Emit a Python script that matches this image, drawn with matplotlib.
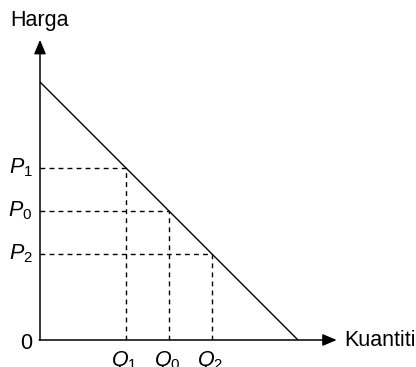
import matplotlib
matplotlib.use("Agg")
import matplotlib.pyplot as plt

plt.rcParams['font.family'] = ['Liberation Sans', 'DejaVu Sans']
plt.rcParams['mathtext.fontset'] = 'custom'
plt.rcParams['mathtext.rm'] = 'Liberation Sans'
plt.rcParams['mathtext.it'] = 'Liberation Sans:italic'

# Data
demand_intercept = 6.0          # price intercept = quantity intercept (P = 6 - Q)
quantities = [2, 3, 4]
q_labels = [r'$Q_1$', r'$Q_0$', r'$Q_2$']
prices = [4, 3, 2]
p_labels = [r'$P_1$', r'$P_0$', r'$P_2$']
x_axis_label = 'Kuantiti'
y_axis_label = 'Harga'

W, H = 416, 367
unit = 43.0
fig = plt.figure(figsize=(W / 100, H / 100), dpi=100)
ox, oy = 40, 27
ax = fig.add_axes([ox / W, oy / H, (W - ox) / W, (H - oy) / H])
ax.set_xlim(0, (W - ox) / unit)
ax.set_ylim(0, (H - oy) / unit)
ax.axis('off')

fs = 15.5
lw = 1.1

# demand line
ax.plot([0, demand_intercept], [demand_intercept, 0], color='black', lw=1.0,
        solid_capstyle='butt')

# dashed guides
for q, p in zip(quantities, prices):
    ax.plot([0, q], [p, p], color='black', lw=1.0, ls=(0, (3.5, 3.0)))
    ax.plot([q, q], [0, p], color='black', lw=1.0, ls=(0, (3.5, 3.0)))

# axes with arrows
arrow_kw = dict(arrowstyle='-|>,head_length=0.85,head_width=0.36', mutation_scale=10,
                lw=lw, color='black', shrinkA=0, shrinkB=0)
ax.annotate('', xy=(0, 6.98), xytext=(0, 0), arrowprops=arrow_kw, annotation_clip=False)
ax.annotate('', xy=(6.9, 0), xytext=(-0.02, 0), arrowprops=arrow_kw, annotation_clip=False)

# labels
ax.text(0, 7.42, y_axis_label, ha='center', va='center', fontsize=fs, clip_on=False)
ax.text(7.08, 0.0, x_axis_label, ha='left', va='center', fontsize=fs, clip_on=False)
ax.text(-0.19, -0.07, '0', ha='right', va='center', fontsize=fs, clip_on=False)

for p, lab in zip(prices, p_labels):
    ax.text(-0.17, p, lab, ha='right', va='center', fontsize=fs, clip_on=False)
for q, lab in zip(quantities, q_labels):
    ax.text(q - 0.05, -0.2, lab, ha='center', va='top', fontsize=fs, clip_on=False)

fig.savefig('out.png', dpi=100)
